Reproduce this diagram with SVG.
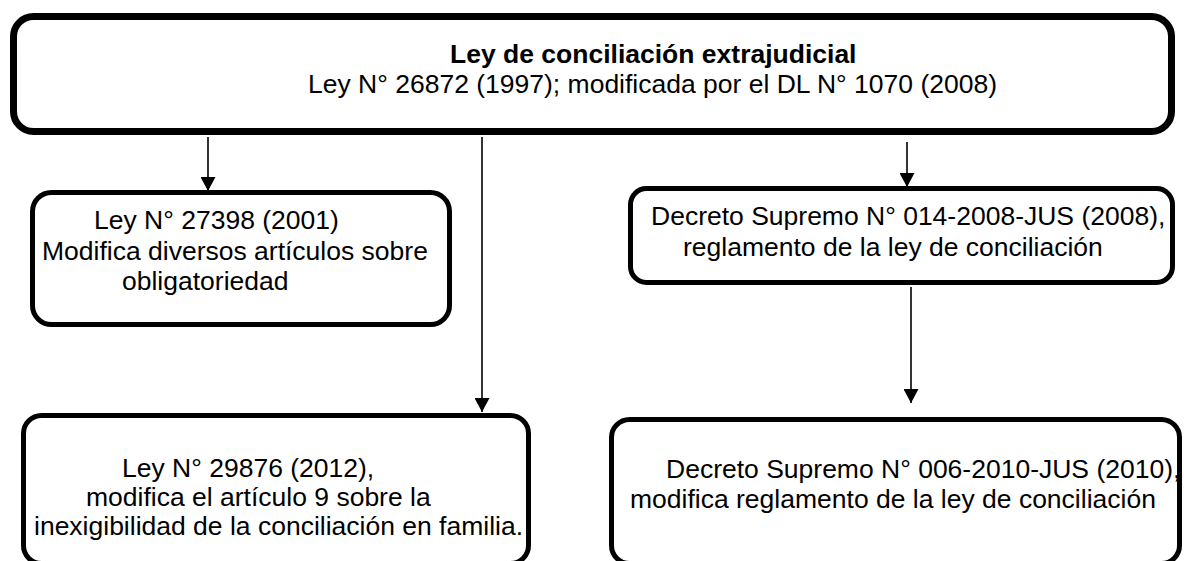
<svg xmlns="http://www.w3.org/2000/svg" width="1184" height="561" viewBox="0 0 1184 561">
<style>
.box{fill:#fff;stroke:#000;stroke-width:5}
.main{stroke-width:7}
.t{font-family:"Liberation Sans",Arial,sans-serif;font-size:26.5px;fill:#000}
.b{font-weight:bold}
.c{stroke:#000;stroke-width:1.6;fill:none}
</style>
<defs>
<marker id="ah" markerUnits="userSpaceOnUse" viewBox="0 0 14 15" refX="14" refY="7.5" markerWidth="14" markerHeight="15" orient="auto">
<path d="M0,0 L14,7.5 L0,15 z" fill="#000"/>
</marker>
</defs>
<rect width="1184" height="561" fill="#fff"/>
<g id="connectors">
<line class="c" x1="208" y1="137" x2="208" y2="191" marker-end="url(#ah)"/>
<line class="c" x1="482" y1="137" x2="482" y2="412" marker-end="url(#ah)"/>
<line class="c" x1="907" y1="142" x2="907" y2="187" marker-end="url(#ah)"/>
<line class="c" x1="911" y1="287" x2="911" y2="403" marker-end="url(#ah)"/>
</g>
<g id="n-ley">
<rect class="box main" x="13.5" y="16.5" width="1158" height="115" rx="20"/>
<text class="t b" x="450" y="63">Ley de conciliación extrajudicial</text>
<text class="t" x="308" y="93">Ley N° 26872 (1997); modificada por el DL N° 1070 (2008)</text>
</g>
<g id="n-27398">
<rect class="box" x="32.5" y="192.5" width="417" height="132" rx="19"/>
<text class="t" x="94" y="229">Ley N° 27398 (2001)</text>
<text class="t" x="42" y="260">Modifica diversos artículos sobre</text>
<text class="t" x="122" y="290">obligatoriedad</text>
</g>
<g id="n-014">
<rect class="box" x="630.5" y="188.5" width="542" height="94" rx="16"/>
<text class="t" x="651" y="225">Decreto Supremo N° 014-2008-JUS (2008),</text>
<text class="t" x="683" y="256">reglamento de la ley de conciliación</text>
</g>
<g id="n-29876">
<rect class="box" x="23.5" y="415.5" width="505" height="148" rx="18"/>
<text class="t" x="122" y="477">Ley N° 29876 (2012),</text>
<text class="t" x="86" y="506">modifica el artículo 9 sobre la</text>
<text class="t" x="34" y="535">inexigibilidad de la conciliación en familia.</text>
</g>
<g id="n-006">
<rect class="box" x="611.5" y="419.5" width="568" height="144" rx="18"/>
<text class="t" x="666" y="478">Decreto Supremo N° 006-2010-JUS (2010),</text>
<text class="t" x="630" y="508">modifica reglamento de la ley de conciliación</text>
</g>
</svg>
